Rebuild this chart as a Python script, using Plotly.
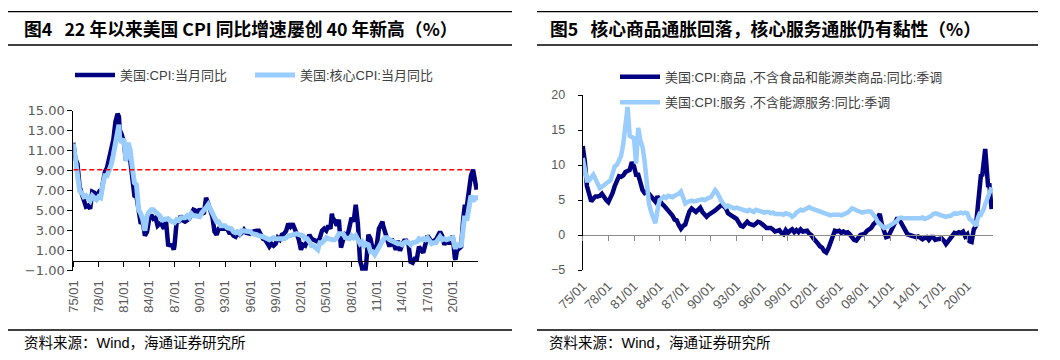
import pandas as pd
import plotly.graph_objects as go

# ---------------- data: left chart (US CPI yoy, headline vs core) ----------------
q_dates = list(pd.date_range("1975-01-01", "2020-10-01", freq="QS"))

cpi_q = [
    11.8, 10.2, 9.7, 7.4,  6.7, 6.1, 5.4, 5.5,  5.2, 6.9, 6.8, 6.4,  6.8, 6.5, 7.7, 8.9,
    9.3, 10.4, 11.3, 12.1,  13.9, 14.7, 13.1, 12.6,  11.8, 10.0, 10.8, 10.1,  8.4, 6.5, 6.4, 5.1,
    3.7, 3.9, 2.5, 2.9,  4.2, 4.6, 4.2, 4.3,  3.5, 3.7, 3.6, 3.2,  3.9, 1.6, 1.6, 1.5,
    1.5, 3.8, 3.9, 4.5,  4.0, 3.9, 4.1, 4.2,  4.7, 5.1, 5.0, 4.5,  5.2, 4.7, 4.8, 6.3,
    5.7, 4.9, 4.4, 2.9,  2.6, 3.2, 3.2, 3.2,  3.3, 3.2, 2.8, 2.8,  2.5, 2.4, 2.8, 2.6,
    2.8, 3.1, 2.8, 2.8,  2.7, 2.9, 3.0, 3.0,  3.0, 2.5, 2.2, 2.1,  1.6, 1.4, 1.7, 1.5,
    1.7, 2.3, 2.1, 2.6,  2.7, 3.0, 3.7, 3.4,  3.7, 3.3, 2.7, 2.1,  1.1, 1.6, 1.5, 2.0,
    2.6, 2.2, 2.1, 2.0,  1.9, 2.3, 3.0, 3.2,  3.0, 3.5, 3.2, 4.3,  4.0, 3.5, 4.1, 1.3,
    2.1, 2.6, 2.4, 3.5,  4.3, 3.9, 5.6, 3.7,  0.0, -0.7, -2.1, -0.2,  2.6, 2.2, 1.2, 1.2,
    1.6, 3.2, 3.6, 3.5,  2.9, 2.3, 1.4, 2.2,  1.6, 1.1, 2.0, 1.0,  1.6, 2.0, 2.0, 1.7,
    -0.1, -0.2, 0.2, 0.2,  1.4, 1.1, 0.8, 1.6,  2.5, 2.2, 1.7, 2.0,  2.1, 2.5, 2.9, 2.5,
    1.6, 2.0, 1.8, 1.8,  2.5, 0.3, 1.0, 1.2,
]
core_q = [
    11.7, 10.0, 8.6, 7.0,  6.8, 6.4, 6.5, 6.2,  6.0, 6.5, 6.2, 6.1,  6.4, 6.3, 7.6, 8.5,
    8.5, 9.0, 9.6, 10.6,  12.0, 13.1, 12.3, 11.8,  12.2, 10.0, 11.8, 11.1,  9.3, 7.8, 7.6, 5.1,
    4.7, 4.1, 3.0, 4.5,  4.9, 5.1, 5.1, 4.9,  4.6, 4.5, 4.1, 4.1,  4.2, 4.2, 4.0, 3.9,
    3.8, 4.1, 4.0, 4.3,  4.3, 4.3, 4.5, 4.3,  4.7, 4.5, 4.5, 4.4,  4.4, 4.8, 5.0, 5.3,
    5.6, 5.1, 4.6, 4.4,  3.9, 3.9, 3.5, 3.5,  3.5, 3.3, 3.2, 3.2,  2.9, 2.8, 2.9, 2.7,
    3.0, 3.0, 3.0, 3.0,  2.9, 2.7, 2.7, 2.6,  2.5, 2.5, 2.4, 2.3,  2.2, 2.1, 2.2, 2.3,
    2.2, 2.2, 2.1, 2.1,  2.2, 2.3, 2.5, 2.5,  2.6, 2.6, 2.7, 2.6,  2.6, 2.5, 2.2, 2.2,
    1.9, 1.5, 1.5, 1.3,  1.1, 1.8, 1.8, 2.0,  2.3, 2.2, 2.1, 2.1,  2.1, 2.3, 2.7, 2.7,
    2.7, 2.3, 2.2, 2.2,  2.5, 2.3, 2.5, 2.2,  1.7, 1.9, 1.5, 1.7,  1.6, 0.9, 0.9, 0.6,
    1.0, 1.3, 1.8, 2.1,  2.3, 2.3, 2.1, 2.0,  1.9, 1.7, 1.7, 1.7,  1.6, 1.8, 1.9, 1.8,
    1.6, 1.8, 1.8, 1.9,  2.2, 2.1, 2.2, 2.1,  2.3, 1.9, 1.7, 1.8,  1.8, 2.1, 2.4, 2.1,
    2.2, 2.1, 2.2, 2.3,  2.3, 1.4, 1.6, 1.6,
]
extra_dates_l = ["1980-06-01", "1986-12-01", "2005-09-01", "2008-12-01", "2011-09-01", "2020-05-01",
                 "2021-01-01", "2021-04-01", "2021-06-01", "2021-09-01", "2021-12-01",
                 "2022-01-01", "2022-03-01", "2022-06-01", "2022-08-01", "2022-10-01", "2022-11-01"]
extra_cpi = [14.4, 1.1, 4.7, 0.1, 3.9, 0.1, 1.4, 4.2, 5.4, 5.4, 7.0, 7.5, 8.5, 9.1, 8.3, 7.7, 7.1]
extra_core = [13.6, 3.8, 2.0, 1.8, 2.0, 1.2, 1.4, 3.0, 4.5, 4.0, 5.5, 6.0, 6.5, 5.9, 6.3, 6.3, 6.0]

ref_dates = ["1975-01-01", "2022-06-01"]
ref_level = 9.1

# ---------------- data: right chart (core goods vs services less energy) ----------------
goods_q = [
    12.7, 10.5, 7.0, 5.5,  4.8, 5.2, 5.5, 5.5,  5.6, 5.9, 5.4, 5.0,  4.7, 5.2, 6.0, 7.0,
    7.8, 8.4, 8.3, 8.5,  9.0, 9.1, 9.3, 10.4,  9.8, 8.6, 8.6, 7.5,  6.4, 6.0, 6.2, 5.9,
    5.5, 5.0, 4.8, 5.5,  4.8, 4.5, 4.2, 3.9,  3.6, 3.2, 2.8, 2.2,  2.1, 1.4, 0.9, 1.3,
    1.5, 2.5, 3.4, 3.8,  3.5, 3.3, 3.6, 3.9,  3.3, 2.9, 2.6, 2.9,  3.2, 3.3, 3.5, 3.8,
    4.0, 4.3, 4.1, 3.8,  3.1, 2.8, 2.7, 2.5,  2.3, 1.8, 1.3, 1.2,  1.6, 1.9, 1.6, 1.5,
    1.4, 1.6, 1.9, 1.8,  1.6, 1.3, 1.0, 1.0,  1.0, 0.8, 0.5, 0.6,  0.7, 0.3, 0.1, 0.7,
    0.3, 0.6, 0.8, 0.4,  0.7, 0.4, 0.8, 0.5,  0.6, 0.6, 0.2, 0.0,  -0.5, -1.0, -1.2, -1.6,
    -1.8, -2.3, -2.5, -1.9,  -1.0, 0.0, 0.6, 0.5,  0.6, 0.3, 0.5, 0.3,  0.4, 0.1, -0.3, -0.7,
    -0.8, -0.4, 0.0, 0.1,  0.2, 0.6, 0.8, 1.0,  1.5, 1.8, 2.5, 3.0,  1.5, 0.3, -0.3, -0.2,
    0.5, 1.2, 1.8, 2.3,  2.3, 1.8, 1.0, 0.6,  0.1, 0.0, -0.1, -0.2,  -0.3, -0.2, -0.5, -0.6,
    -0.4, -0.3, -0.7, -0.3,  -0.3, -0.7, -0.6, -0.5,  -0.5, -0.8, -1.3, -0.9,  -0.5, 0.0, 0.3, 0.2,
    0.4, 0.3, 0.5, -0.2,  0.1, -0.9, -1.0, 0.8,
]
services_q = [
    11.0, 9.0, 7.8, 7.8,  8.2, 8.6, 8.0, 7.2,  6.7, 6.9, 7.2, 7.3,  7.6, 7.8, 8.6, 9.8,
    10.0, 10.6, 11.3, 13.0,  15.5, 18.3, 14.2, 13.9,  13.8, 10.2, 15.3, 13.5,  12.6, 10.5, 8.0, 4.5,
    3.3, 2.5, 1.7, 3.5,  5.0, 5.2, 5.5, 5.3,  5.6, 5.5, 5.4, 5.6,  5.7, 5.9, 6.2, 5.5,
    4.5, 4.7, 4.8, 4.9,  4.8, 4.9, 5.0, 5.0,  5.1, 5.0, 5.2, 5.3,  5.4, 5.9, 6.4, 6.0,
    5.2, 4.8, 4.4, 4.0,  4.2, 4.0, 3.9, 3.8,  3.9, 3.8, 3.7, 3.6,  3.4, 3.4, 3.6, 3.4,
    3.3, 3.6, 3.5, 3.5,  3.4, 3.2, 3.3, 3.3,  3.1, 3.2, 3.0, 3.0,  3.1, 3.0, 2.9, 3.1,
    3.0, 2.9, 2.6, 2.8,  3.2, 3.5, 3.6, 3.5,  3.7, 3.9, 4.0, 3.8,  3.7, 3.6, 3.4, 3.3,
    3.2, 3.1, 3.1, 3.0,  2.8, 2.9, 2.9, 3.0,  2.9, 2.8, 2.9, 3.1,  3.2, 3.5, 3.8, 3.7,
    3.5, 3.4, 3.3, 3.2,  3.3, 3.4, 3.4, 3.3,  3.0, 2.5, 1.9, 1.6,  1.2, 1.0, 1.1, 1.2,
    1.4, 1.6, 1.8, 2.0,  2.4, 2.5, 2.4, 2.4,  2.4, 2.3, 2.4, 2.4,  2.4, 2.4, 2.4, 2.5,
    2.3, 2.4, 2.5, 2.7,  3.0, 3.1, 3.0, 2.9,  2.9, 2.8, 2.6, 2.7,  2.7, 2.9, 3.1, 3.0,
    3.1, 3.2, 3.1, 3.2,  3.1, 2.3, 2.1, 1.8,
]
extra_dates_r = ["2021-01-01", "2021-04-01", "2021-06-01", "2021-08-01", "2021-10-01", "2021-12-01",
                 "2022-02-01", "2022-04-01", "2022-06-01", "2022-08-01", "2022-10-01", "2022-11-01"]
extra_goods = [1.3, 4.4, 7.5, 8.5, 8.6, 10.7, 12.3, 9.7, 7.1, 7.1, 5.1, 3.7]
extra_services = [1.3, 2.5, 3.0, 2.9, 3.2, 3.7, 4.4, 4.9, 5.5, 6.1, 6.7, 6.8]

# x tick positions (every three years, labelled yy/mm)
tick_dates = list(pd.date_range("1975-01-01", "2020-01-01", freq="36MS"))

# ---------------- text ----------------
title_l = "图4   22 年以来美国 CPI 同比增速屡创 40 年新高（%）"
title_r = "图5   核心商品通胀回落，核心服务通胀仍有黏性（%）"
source_txt = "资料来源：Wind，海通证券研究所"
name_cpi = "美国:CPI:当月同比"
name_core = "美国:核心CPI:当月同比"
name_goods = "美国:CPI:商品 ,不含食品和能源类商品:同比:季调"
name_services = "美国:CPI:服务 ,不含能源服务:同比:季调"

# ---------------- build tables ----------------
left = pd.DataFrame({
    "date": q_dates + list(pd.to_datetime(extra_dates_l)),
    "cpi": cpi_q + extra_cpi,
    "core": core_q + extra_core,
}).sort_values("date")
right = pd.DataFrame({
    "date": q_dates + list(pd.to_datetime(extra_dates_r)),
    "goods": goods_q + extra_goods,
    "services": services_q + extra_services,
}).sort_values("date")

W, H = 1060, 360
OX, OY = 8, 8  # page body margin offset
def px(x):
    return (x - OX) / W
def py(y):
    return (H - (y - OY)) / H

LAT = "Liberation Sans, Noto Sans CJK SC, sans-serif"
DARK = "#000080"
LIGHT = "#99ccff"
GRAY_TXT = "#595959"

fig = go.Figure()
# left chart
fig.add_trace(go.Scatter(x=left["date"], y=left["cpi"], mode="lines", name=name_cpi,
                         line=dict(color=DARK, width=4.5), xaxis="x", yaxis="y", legend="legend"))
fig.add_trace(go.Scatter(x=left["date"], y=left["core"], mode="lines", name=name_core,
                         line=dict(color=LIGHT, width=5), xaxis="x", yaxis="y", legend="legend2"))
fig.add_trace(go.Scatter(x=pd.to_datetime(ref_dates), y=[ref_level] * len(ref_dates), mode="lines",
                         line=dict(color="#ff0000", width=1.5, dash="5px,3px"), showlegend=False,
                         hoverinfo="skip", xaxis="x3", yaxis="y"))
# right chart
fig.add_trace(go.Scatter(x=right["date"], y=right["goods"], mode="lines", name=name_goods,
                         line=dict(color=DARK, width=4.5), xaxis="x2", yaxis="y2", legend="legend3"))
fig.add_trace(go.Scatter(x=right["date"], y=right["services"], mode="lines", name=name_services,
                         line=dict(color=LIGHT, width=4.5), xaxis="x4", yaxis="y2", legend="legend4"))

xr = ["1975-01-01", "2022-12-31"]
dom_l = [px(73.3), px(478)]
dom_r = [px(582.7), px(993)]

label_axis = dict(type="date", range=xr, tickformat="%y/%m", tickmode="array", tickvals=tick_dates,
                  showline=False, ticks="", showgrid=False, zeroline=False, automargin=False,
                  tickfont=dict(family=LAT, size=13, color=GRAY_TXT))
zero_axis = dict(type="date", range=xr, tickmode="array", tickvals=tick_dates, anchor="free",
                 showline=True, linewidth=1, ticks="outside", ticklen=5, tickwidth=1, automargin=False,
                 showticklabels=False, showgrid=False, zeroline=False)

fig.update_layout(
    width=W, height=H, margin=dict(l=0, r=0, t=0, b=0, pad=0, autoexpand=False),
    paper_bgcolor="white", plot_bgcolor="white", showlegend=True,
    xaxis=dict(label_axis, domain=dom_l, anchor="y", tickangle=-90, ticklabelstandoff=6),
    xaxis3=dict(zero_axis, domain=dom_l, overlaying="x", position=py(260.7),
                linecolor="#000000", tickcolor="#000000"),
    yaxis=dict(domain=[py(270.7), py(110.7)], range=[-1, 15], dtick=2, tick0=-1, tickformat=".2f",
               anchor="x", showline=True, linecolor="#000000", linewidth=1, ticks="outside",
               ticklen=5, tickcolor="#000000", showgrid=False, zeroline=False, automargin=False,
               tickfont=dict(family="DejaVu Sans, sans-serif", size=13, color=GRAY_TXT)),
    xaxis2=dict(label_axis, domain=dom_r, anchor="y2", tickangle=-45, ticklabelstandoff=5),
    xaxis4=dict(zero_axis, domain=dom_r, overlaying="x2", position=py(234.5),
                linecolor="#8c8c8c", tickcolor="#8c8c8c"),
    yaxis2=dict(domain=[py(270), py(95)], range=[-5, 20], dtick=5, tick0=-5,
                anchor="x2", showline=True, linecolor="#000000", linewidth=1, ticks="outside",
                ticklen=4, tickcolor="#000000", showgrid=False, zeroline=False, ticklabelstandoff=10,
                automargin=False, tickfont=dict(family=LAT, size=12.5, color=GRAY_TXT)),
)

leg_common = dict(orientation="v", xanchor="left", yanchor="middle", bgcolor="rgba(0,0,0,0)",
                  borderwidth=0, itemwidth=40, font=dict(family=LAT, size=13, color="#404040"))
fig.update_layout(
    legend=dict(leg_common, x=px(70), y=py(75)),
    legend2=dict(leg_common, x=px(250), y=py(75)),
    legend3=dict(leg_common, x=px(615), y=py(76.7)),
    legend4=dict(leg_common, x=px(615), y=py(102.3)),
)

# titles, source lines and rules
annos = []
for x0, t in [(22, title_l), (548, title_r)]:
    annos.append(dict(x=px(x0), y=py(28), xref="paper", yref="paper", xanchor="left", yanchor="middle",
                      text="<b>" + t + "</b>", showarrow=False,
                      font=dict(family="Noto Sans CJK SC, sans-serif", size=17.8, color="#000000")))
for x0 in (22, 547):
    annos.append(dict(x=px(x0), y=py(343), xref="paper", yref="paper", xanchor="left", yanchor="middle",
                      text=source_txt, showarrow=False,
                      font=dict(family=LAT, size=14.5, color="#000000")))
fig.update_layout(annotations=annos)

shapes = []
for (xa, xb) in [(8, 512), (537, 1038)]:
    for yv in (11.7, 45, 330):
        shapes.append(dict(type="line", xref="paper", yref="paper", x0=px(xa), x1=px(xb),
                           y0=py(yv), y1=py(yv), line=dict(color="#000000", width=1.3)))
fig.update_layout(shapes=shapes)

fig.write_html("out.html")
